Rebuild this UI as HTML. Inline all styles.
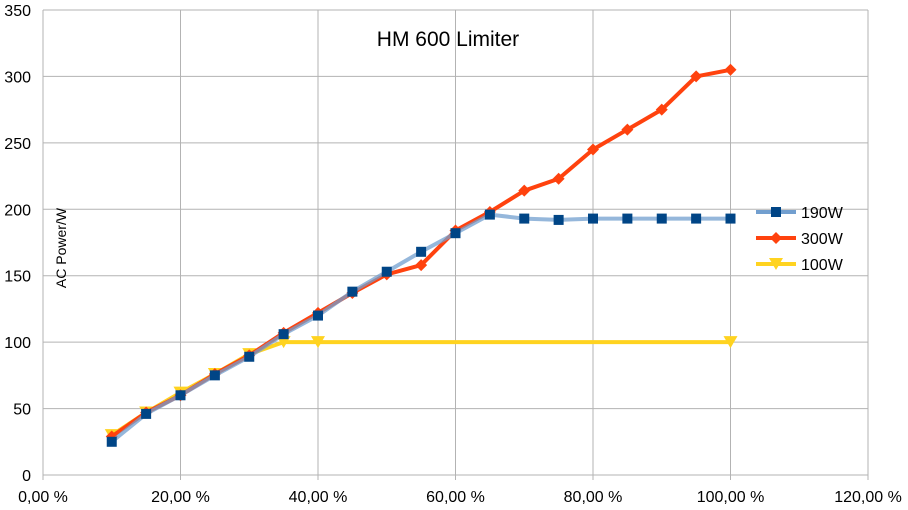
<!DOCTYPE html>
<html><head><meta charset="utf-8"><style>
body{margin:0;background:#fff;}
svg{display:block;font-family:"Liberation Sans",sans-serif;}
</style></head><body>
<svg id="chart" width="908" height="510">
<g id="grid"></g>
<g id="axes"></g>
<g id="series"></g>
<text x="448" y="46" font-size="21" text-anchor="middle" fill="#000">HM 600 Limiter</text>
<text transform="translate(66,248) rotate(-90)" font-size="14" text-anchor="middle" fill="#000">AC Power/W</text>
<g id="legend"></g>
</svg>
<script>
const xPercents=[10,15,20,25,30,35,40,45,50,55,60,65,70,75,80,85,90,95,100];
const s190=[25,46,60,75,89,106,120,138,153,168,182,196,193,192,193,193,193,193,193];
const s300=[29,47,60,76,90,107,122,137,151,158,184,198,214,223,245,260,275,300,305];
const x100=[10,15,20,25,30,35,40,100];
const s100=[30,47,62,76,91,100,100,100];
const yTicks=[0,50,100,150,200,250,300,350];
const xTicks=[0,20,40,60,80,100,120];
const xTickLabels=["0,00 %","20,00 %","40,00 %","60,00 %","80,00 %","100,00 %","120,00 %"];
const seriesNames=["190W","300W","100W"];

const NS="http://www.w3.org/2000/svg";
const X0=43,X1=868,Y0=475,Y1=10;
const xs=v=>X0+(v/120)*(X1-X0);
const ys=v=>Y0-(v/350)*(Y0-Y1);
function mk(tag,attrs,parent){const e=document.createElementNS(NS,tag);for(const k in attrs)e.setAttribute(k,attrs[k]);parent.appendChild(e);return e;}
const grid=document.getElementById('grid'),axes=document.getElementById('axes'),ser=document.getElementById('series'),leg=document.getElementById('legend');

yTicks.forEach(v=>{
  const l=mk('line',{x1:X0,x2:X1,y1:ys(v),y2:ys(v),stroke:'#b3b3b3','stroke-width':1},grid);
  
  
  const t=mk('text',{x:X0-12,y:ys(v)+6,'font-size':16,'text-anchor':'end',fill:'#000'},axes);
  t.textContent=v;
  
  
});
xTicks.forEach((v,i)=>{
  const l=mk('line',{x1:xs(v),x2:xs(v),y1:Y1,y2:Y0+5,stroke:'#b3b3b3','stroke-width':1},grid);
  
  
  const t=mk('text',{x:xs(v),y:502,'font-size':16,'text-anchor':'middle',fill:'#000'},axes);
  t.textContent=xTickLabels[i];
  
  
});

function pts(xv,yv){return xv.map((x,i)=>xs(x)+','+ys(yv[i])).join(' ');}
function tri(cx,cy,c,p){const e=mk('polygon',{points:`${cx-7},${cy-6} ${cx+7},${cy-6} ${cx},${cy+6}`,fill:c},p);return e;}
function dia(cx,cy,c,p){return mk('polygon',{points:`${cx},${cy-6} ${cx+6},${cy} ${cx},${cy+6} ${cx-6},${cy}`,fill:c},p);}
function sq(cx,cy,c,p){return mk('rect',{x:cx-5,y:cy-5,width:10,height:10,fill:c},p);}

// 100W
let l1=mk('polyline',{points:pts(x100,s100),fill:'none',stroke:'#ffd320','stroke-width':4,'stroke-linejoin':'round'},ser);


x100.forEach((x,i)=>{const m=tri(xs(x),ys(s100[i]),'#ffd320',ser);

});
// 300W
let l2=mk('polyline',{points:pts(xPercents,s300),fill:'none',stroke:'#ff420e','stroke-width':4,'stroke-linejoin':'round'},ser);


xPercents.forEach((x,i)=>{const m=dia(xs(x),ys(s300[i]),'#ff420e',ser);

});
// 190W
let l3=mk('polyline',{points:pts(xPercents,s190),fill:'none',stroke:'#729fcf','stroke-width':4,'stroke-linejoin':'round','stroke-opacity':0.75},ser);


xPercents.forEach((x,i)=>{const m=sq(xs(x),ys(s190[i]),'#004586',ser);

});

// legend
const legCols=[['#729fcf','#004586',sq],['#ff420e','#ff420e',dia],['#ffd320','#ffd320',tri]];
seriesNames.forEach((n,i)=>{
  const y=212+i*26;
  const g=mk('g',{},leg);
  
  
  mk('line',{x1:756,x2:796,y1:y,y2:y,stroke:legCols[i][0],'stroke-width':4},g);
  legCols[i][2](776,y,legCols[i][1],g);
  const t=mk('text',{x:801,y:y+6,'font-size':16,fill:'#000'},g);
  t.textContent=n;
});
</script>
</body></html>
